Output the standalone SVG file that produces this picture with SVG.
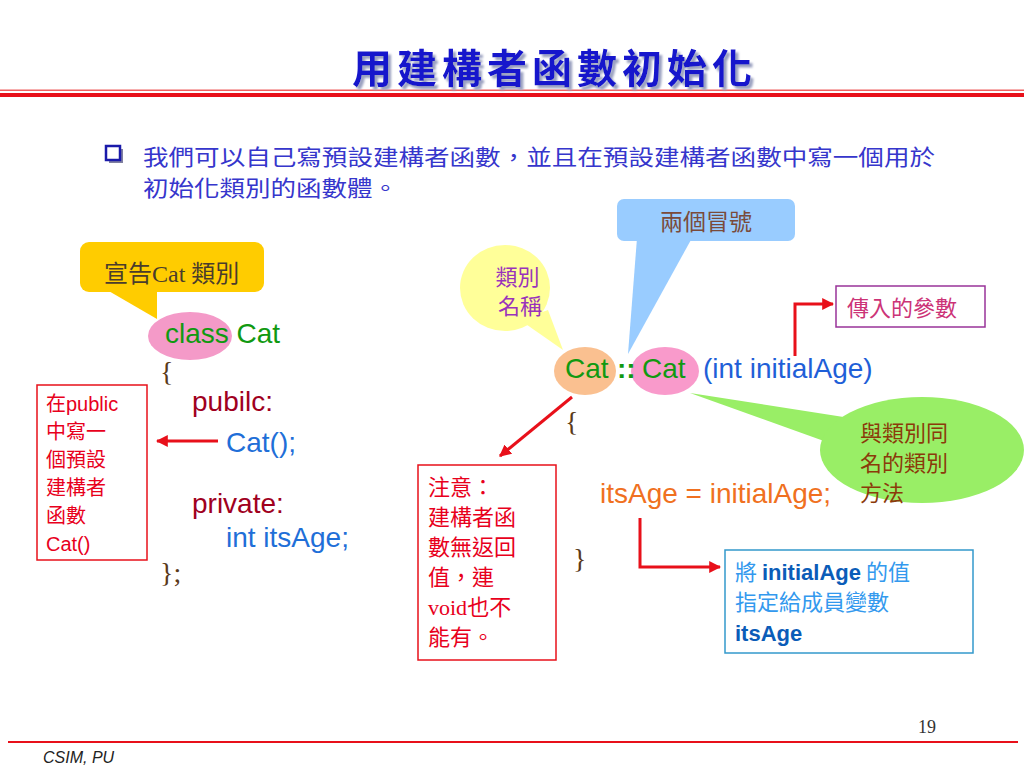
<svg xmlns="http://www.w3.org/2000/svg" width="1024" height="768" viewBox="0 0 1024 768">
<defs>
<marker id="ah" viewBox="0 0 10 10" refX="9" refY="5" markerWidth="4" markerHeight="4" orient="auto" markerUnits="strokeWidth">
<path d="M0,0 L10,5 L0,10 z" fill="#e8101a"/>
</marker>
<filter id="shadow" x="-5%" y="-20%" width="115%" height="150%">
<feDropShadow dx="3" dy="3" stdDeviation="1" flood-color="#9aa0c0" flood-opacity="1"/>
</filter>
</defs>
<style>
.cjk{font-family:"Noto Sans CJK TC","Noto Sans CJK SC",sans-serif;}
.code{font-family:"Liberation Sans",Arial,sans-serif;font-size:28px;}
.serif{font-family:"Liberation Serif","Noto Sans CJK TC",serif;}
.conn{fill:none;stroke:#e8101a;stroke-width:3;}
.kw{fill:#a0001e;}
.blue{fill:#1f6fd8;}
.green{fill:#119911;}
.brace{fill:#5a3a1a;}
.redtxt{fill:#e8001c;font-size:20px;}
</style>
<rect width="1024" height="768" fill="#ffffff"/>

<g id="header">
<rect x="0" y="89.5" width="1024" height="1.5" fill="#f06060"/>
<rect x="0" y="93" width="1024" height="4" fill="#e8101a"/>
<text x="352" y="83" class="cjk" font-size="40" letter-spacing="5" fill="#1414cc" font-weight="bold" filter="url(#shadow)">用建構者函數初始化</text>
</g>

<g id="bullet">
<rect x="109" y="149" width="14" height="14" fill="#8080a0"/>
<rect x="106" y="146" width="14" height="14" fill="#ffffff" stroke="#1a1aaa" stroke-width="2.5"/>
<text class="cjk" font-size="21.5" fill="#3636cc">
<tspan x="143" y="165" textLength="792" lengthAdjust="spacingAndGlyphs">我們可以自己寫預設建構者函數，並且在預設建構者函數中寫一個用於</tspan>
<tspan x="143" y="196" textLength="255" lengthAdjust="spacingAndGlyphs">初始化類別的函數體。</tspan>
</text>
</g>

<g id="callout-declare">
<path d="M107,290 L157,290 L157,319 Z" fill="#ffcc00"/>
<rect x="80" y="242" width="184" height="50" rx="9" fill="#ffcc00"/>
<text x="104" y="282" class="serif" font-size="24" fill="#4a3c2c">宣告Cat 類別</text>
</g>

<g id="class-code">
<ellipse cx="190" cy="336" rx="42" ry="24" fill="#f49ac8"/>
<text x="165" y="343" class="code green">class Cat</text>
<text x="160" y="381" class="serif brace" font-size="28">{</text>
<text x="192" y="411" class="code kw">pubilc:</text>
<text x="226" y="452" class="code blue">Cat();</text>
<text x="192" y="513" class="code kw">private:</text>
<text x="226" y="547" class="code blue">int itsAge;</text>
<text x="160" y="582" class="serif brace" font-size="28">};</text>
</g>

<g id="note-public">
<rect x="37" y="385" width="110" height="175" fill="#ffffff" stroke="#e8101a" stroke-width="1.5"/>
<text class="cjk redtxt">
<tspan x="46" y="411">在<tspan font-family="Liberation Sans, Arial, sans-serif">public</tspan></tspan>
<tspan x="46" y="439">中寫一</tspan>
<tspan x="46" y="467">個預設</tspan>
<tspan x="46" y="495">建構者</tspan>
<tspan x="46" y="523">函數</tspan>
<tspan x="46" y="551" font-family="Liberation Sans, Arial, sans-serif">Cat()</tspan>
</text>
</g>

<g id="callout-colons">
<path d="M637,238 L692,238 L628,354 Z" fill="#99ccff"/>
<rect x="617" y="199" width="178" height="42" rx="7" fill="#99ccff"/>
<text x="706" y="230" class="cjk" font-size="23" fill="#7a4a3a" text-anchor="middle">兩個冒號</text>
</g>

<g id="callout-classname">
<path d="M520,320 L548,310 L563,350 Z" fill="#ffff99"/>
<ellipse cx="505" cy="288" rx="45" ry="43" fill="#ffff99"/>
<text class="cjk" font-size="22" fill="#9933bb" text-anchor="middle">
<tspan x="520" y="285">類別</tspan>
<tspan x="520" y="314">名稱</tspan>
</text>
</g>

<g id="callout-method">
<path d="M690,393 L850,418 L835,445 Z" fill="#99ee66"/>
<ellipse cx="922" cy="450" rx="102" ry="53" fill="#99ee66"/>
<text class="cjk" font-size="22" fill="#8b3a0a">
<tspan x="860" y="441">與類別同</tspan>
<tspan x="860" y="471">名的類別</tspan>
<tspan x="860" y="501">方法</tspan>
</text>
</g>

<g id="ctor-code">
<ellipse cx="585" cy="371" rx="31" ry="24" fill="#fac090"/>
<ellipse cx="665" cy="371" rx="34" ry="24" fill="#f99acb"/>
<text x="565" y="378" class="code green">Cat</text>
<text x="617" y="378" class="code green" font-weight="bold">::</text>
<text x="642" y="378" class="code green">Cat</text>
<text x="703" y="378" class="code" fill="#1f5fd8">(int initialAge)</text>
<text x="565" y="431" class="serif brace" font-size="28">{</text>
<text x="600" y="503" class="code" fill="#f07020">itsAge = initialAge;</text>
<text x="573" y="568" class="serif brace" font-size="28">}</text>
</g>

<g id="param-box">
<rect x="836" y="286" width="149" height="41" fill="#ffffff" stroke="#993399" stroke-width="1.5"/>
<text x="847" y="316" class="cjk" font-size="22" fill="#cc3377">傳入的參數</text>
</g>

<g id="note-void">
<rect x="418" y="465" width="138" height="195" fill="#ffffff" stroke="#e8101a" stroke-width="1.5"/>
<text class="cjk" font-size="22" fill="#e8001c">
<tspan x="428" y="495">注意：</tspan>
<tspan x="428" y="525">建構者函</tspan>
<tspan x="428" y="555">數無返回</tspan>
<tspan x="428" y="585">值，連</tspan>
<tspan x="428" y="615"><tspan font-family="Liberation Serif, serif">void</tspan>也不</tspan>
<tspan x="428" y="645">能有。</tspan>
</text>
</g>

<g id="assign-box">
<rect x="725" y="550" width="248" height="103" fill="#ffffff" stroke="#3399cc" stroke-width="1.5"/>
<text class="cjk" font-size="22" fill="#3399ee">
<tspan x="735" y="580">將 <tspan font-family="Liberation Sans, Arial, sans-serif" font-weight="bold" fill="#0b5cb8">initialAge</tspan> 的值</tspan>
<tspan x="735" y="610">指定給成員變數</tspan>
<tspan x="735" y="641" font-family="Liberation Sans, Arial, sans-serif" font-weight="bold" fill="#0b5cb8">itsAge</tspan>
</text>
</g>

<g id="connectors">
<line x1="218" y1="441" x2="157" y2="441" class="conn" marker-end="url(#ah)"/>
<polyline points="795,356 795,304 833,304" class="conn" marker-end="url(#ah)"/>
<line x1="572" y1="397" x2="500" y2="456" class="conn" marker-end="url(#ah)"/>
<polyline points="640,518 640,567 720,567" class="conn" marker-end="url(#ah)"/>
</g>

<g id="footer">
<text x="918" y="733" class="serif" font-size="18" fill="#333333">19</text>
<rect x="8" y="741" width="1010" height="2" fill="#e8101a"/>
<text x="43" y="763" font-family="Liberation Sans, Arial, sans-serif" font-style="italic" font-size="16" fill="#222222">CSIM, PU</text>
</g>
</svg>
